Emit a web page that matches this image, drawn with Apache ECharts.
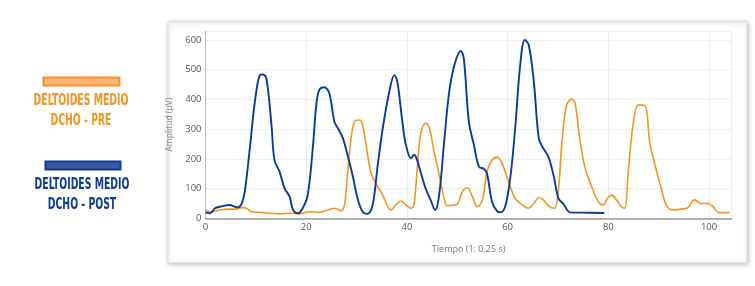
<!DOCTYPE html>
<html><head><meta charset="utf-8">
<script src="https://cdn.jsdelivr.net/npm/echarts@6/dist/echarts.min.js"></script>
<style>html,body{margin:0;padding:0;background:#fff}#c{width:755px;height:286px}</style>
</head><body><div id="c"></div>
<script>
const xTicks = [0, 20, 40, 60, 80, 100];
const yTicks = [0, 100, 200, 300, 400, 500, 600];
const postName = 'DELTOIDES MEDIO DCHO - POST';
const preName = 'DELTOIDES MEDIO DCHO - PRE';
const postX = [0,0.9,1.9,2.9,4.8,5.8,6.5,7.2,7.8,8.8,9.8,10.8,11.4,12.1,13.1,13.7,14.7,15.7,16.7,17.4,18.4,19.3,20.3,21.3,22,22.6,23.6,24.6,25.6,26.3,27.3,28.2,29.2,30.2,31.2,32.2,33.2,34.2,35.2,36.5,37.5,38.1,39.1,39.8,40.8,41.4,41.8,42.7,43.7,44.7,45.6,46.4,47.4,48.4,49.5,50.7,51.3,52.3,53.3,54.3,55.3,55.9,56.9,57.9,58.6,59.6,60.6,61.5,62.5,63.4,64.2,65.2,66.2,67.1,68.1,69.1,70.1,71.1,72.4,74.7,79.2];
const postY = [20,17,34,39,45,39,37,50,90,235,392,482,484,471,314,196,157,101,73,28,17,34,78,235,381,432,441,420,325,303,269,213,146,67,22,15,45,179,303,426,482,460,325,247,202,213,207,157,101,62,28,78,258,426,520,563,538,325,247,174,166,151,56,24,20,45,146,303,516,600,583,460,269,235,207,146,67,48,20,19,18];
const preX = [0,0.9,2.9,4.2,6.2,7.2,8.1,9.1,10.8,12.8,14.7,16.7,18.7,20.7,22.6,24.3,25.6,26.9,27.6,28.2,28.9,29.6,30.6,31.2,32.2,32.9,34.2,35.2,36.2,36.8,37.8,38.8,39.8,40.8,41.4,42.1,42.7,43.7,44.4,45.4,46.4,47.4,48.0,49.3,50.0,51.0,52.0,53.0,54.0,55.0,55.9,56.9,57.9,58.9,60.2,61.5,62.9,64.1,65.2,66.2,67.1,68.1,69.3,70.1,70.8,71.7,72.7,73.4,74.4,75.4,76.7,78.0,79.0,79.9,80.7,81.6,82.6,83.3,83.9,84.9,85.9,86.9,87.6,88.2,89.6,90.5,91.5,92.8,94.5,95.8,97.1,98.5,99.8,100.8,101.8,104.1];
const preY = [28,22,28,31,31,36,34,22,20,17,15,17,15,22,20,28,34,25,45,146,269,325,331,314,213,151,107,78,39,28,45,58,45,34,45,179,280,320,308,224,146,67,42,45,47,90,103,73,39,62,157,196,206,185,123,67,45,34,50,70,62,42,34,101,258,381,401,387,258,168,106,56,45,69,78,62,39,34,146,314,381,381,364,258,157,101,45,28,31,36,62,50,50,39,20,19];

const zip = (xs, ys) => xs.map((x, i) => [x, ys[i]]);
const chart = echarts.init(document.getElementById('c'), null, {renderer: 'canvas'});
const orange = '#f7931e', blue = '#0a3a9c', legBlue = '#0c3c96';
const legendFont = 'bold 15px "DejaVu Sans Condensed", "DejaVu Sans", sans-serif';
const legText = (x, y, text, fill) => ({type: 'text', x: x, y: y, scaleX: 0.69, scaleY: 1.02,
  style: {x: 0, y: 0, text: text, font: legendFont, fill: fill, align: 'center', verticalAlign: 'middle'}});
chart.setOption({
  animation: false,
  graphic: [
    {type: 'rect', z: -10, shape: {x: 168, y: 22, width: 579, height: 241},
     style: {fill: '#fff', stroke: '#d8d8d8', lineWidth: 1, shadowBlur: 5, shadowColor: 'rgba(0,0,0,0.25)', shadowOffsetX: 1, shadowOffsetY: 1}},
    {type: 'rect', shape: {x: 43.5, y: 77.5, width: 76, height: 8}, style: {fill: '#fdb676', stroke: orange, lineWidth: 2}},
    legText(81, 101, 'DELTOIDES MEDIO', orange),
    legText(81, 121, 'DCHO - PRE', orange),
    {type: 'rect', shape: {x: 45.5, y: 161.5, width: 75, height: 8}, style: {fill: '#3a5a9e', stroke: legBlue, lineWidth: 2}},
    legText(82, 185, 'DELTOIDES MEDIO', legBlue),
    legText(82, 205, 'DCHO - POST', legBlue)
  ],
  grid: {left: 205.5, right: 23.3, top: 31.1, bottom: 67.7},
  xAxis: {
    type: 'value', min: 0, max: 104.5, interval: 20,
    name: 'Tiempo (1: 0.25 s)', nameLocation: 'middle', nameGap: 27,
    nameTextStyle: {color: '#777', fontSize: 9, fontFamily: 'Open Sans'},
    axisLine: {lineStyle: {color: '#999', width: 1.5}},
    axisTick: {show: false},
    axisLabel: {color: '#555', fontSize: 9.5, fontFamily: 'Open Sans', margin: 4, showMaxLabel: false,
      formatter: v => xTicks.includes(v) ? String(v) : ''},
    splitLine: {lineStyle: {color: '#eeeeee'}}
  },
  yAxis: {
    type: 'value', min: 0, max: 630, interval: 100,
    name: 'Amplitud (µV)', nameLocation: 'middle', nameGap: 14, nameRotate: 90,
    nameTextStyle: {color: '#888', fontSize: 8.5, fontFamily: 'Open Sans'},
    axisLine: {show: true, lineStyle: {color: '#bbb', width: 1}},
    axisTick: {show: false},
    axisLabel: {color: '#555', fontSize: 9.5, fontFamily: 'Open Sans', margin: 4, showMaxLabel: false,
      formatter: v => yTicks.includes(v) ? String(v) : ''},
    splitLine: {lineStyle: {color: '#eeeeee'}}
  },
  series: [
    {name: preName, type: 'line', data: zip(preX, preY), smooth: 0.35, showSymbol: false, lineStyle: {color: orange, width: 1.6}, itemStyle: {color: orange}},
    {name: postName, type: 'line', data: zip(postX, postY), smooth: 0.35, showSymbol: false, lineStyle: {color: blue, width: 1.9}, itemStyle: {color: blue}}
  ]
});
</script></body></html>
